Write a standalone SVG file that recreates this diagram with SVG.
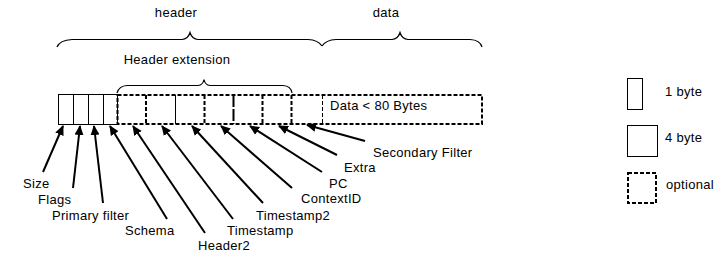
<svg xmlns="http://www.w3.org/2000/svg" width="719" height="267" viewBox="0 0 719 267">
  <style>
    text { font-family: "Liberation Sans", Arial, sans-serif; font-size: 13px; letter-spacing: 0.3px; fill: #000; }
    .solid { fill: none; stroke: #000; stroke-width: 1; }
    .dash { fill: none; stroke: #000; stroke-width: 2; stroke-dasharray: 4 2; }
    .thin-dash { fill: none; stroke: #000; stroke-width: 1; stroke-dasharray: 4 2; }
    .brace { fill: none; stroke: #000; stroke-width: 1.2; }
    .arrow { stroke: #000; stroke-width: 2; fill: none; marker-end: url(#head); }
  </style>
  <defs>
    <marker id="head" markerUnits="userSpaceOnUse" markerWidth="10" markerHeight="10" viewBox="0 0 10 10" refX="9" refY="5" orient="auto">
      <path d="M0,0.5 L10,5 L0,9.5 Z" fill="#000"/>
    </marker>
  </defs>

  <!-- section labels and braces -->
  <g id="header-brace">
    <text x="176" y="17" text-anchor="middle">header</text>
    <path class="brace" d="M57,47 Q60,40 72,39.5 L182,39.5 Q188,39 190,32.5 Q192,39 198,39.5 L308,39.5 Q318,40 322,46"/>
  </g>
  <g id="data-brace">
    <text x="386" y="17" text-anchor="middle">data</text>
    <path class="brace" d="M322,46 Q326,40 336,39.5 L392,39.5 Q398,39 400,32.5 Q402,39 408,39.5 L470,39.5 Q480,40 482,47"/>
  </g>
  <g id="header-extension">
    <text x="177" y="64" text-anchor="middle">Header extension</text>
    <path class="brace" d="M117,93 Q119,86 127,85.5 L198,85.5 Q203,85 204,79.5 Q205,85 210,85.5 L283,85.5 Q291,86 292,93"/>
  </g>

  <!-- fixed 1-byte fields -->
  <g id="fixed-fields">
    <rect class="solid" x="58.5" y="94.5" width="59" height="30"/>
    <line class="solid" x1="73.5" y1="94.5" x2="73.5" y2="124.5"/>
    <line class="solid" x1="88.5" y1="94.5" x2="88.5" y2="124.5"/>
    <line class="solid" x1="103.5" y1="94.5" x2="103.5" y2="124.5"/>
  </g>

  <!-- optional 4-byte fields and data -->
  <g id="optional-fields">
    <rect class="dash" x="117.5" y="95" width="364.5" height="29"/>
    <line class="dash" x1="146" y1="95" x2="146" y2="124"/>
    <line class="solid" x1="175.5" y1="95" x2="175.5" y2="124"/>
    <line class="dash" x1="204.5" y1="95" x2="204.5" y2="124"/>
    <line stroke="#000" stroke-width="2" stroke-dasharray="12 2" x1="233.5" y1="95" x2="233.5" y2="124"/>
    <line class="dash" x1="262.5" y1="95" x2="262.5" y2="124"/>
    <line class="dash" x1="291.5" y1="95" x2="291.5" y2="124"/>
    <line class="thin-dash" x1="322.5" y1="95" x2="322.5" y2="124"/>
    <text x="330" y="110">Data &lt; 80 Bytes</text>
  </g>

  <!-- field labels -->
  <g id="label-size"><text x="23" y="188">Size</text></g>
  <g id="label-flags"><text x="38" y="204">Flags</text></g>
  <g id="label-primary"><text x="52" y="220">Primary filter</text></g>
  <g id="label-schema"><text x="125" y="235">Schema</text></g>
  <g id="label-header2"><text x="198" y="250">Header2</text></g>
  <g id="label-timestamp"><text x="227" y="235">Timestamp</text></g>
  <g id="label-timestamp2"><text x="256" y="220">Timestamp2</text></g>
  <g id="label-contextid"><text x="301" y="203">ContextID</text></g>
  <g id="label-pc"><text x="329" y="188">PC</text></g>
  <g id="label-extra"><text x="344" y="172">Extra</text></g>
  <g id="label-secondary"><text x="373" y="157">Secondary Filter</text></g>

  <!-- pointers from labels to fields -->
  <g id="connectors">
    <line class="arrow" x1="43" y1="172" x2="63" y2="126"/>
    <line class="arrow" x1="73" y1="188" x2="80" y2="126"/>
    <line class="arrow" x1="103" y1="203" x2="94" y2="126"/>
    <line class="arrow" x1="167" y1="219" x2="110" y2="126"/>
    <line class="arrow" x1="205" y1="233" x2="133" y2="126"/>
    <line class="arrow" x1="233" y1="219" x2="162" y2="126"/>
    <line class="arrow" x1="263" y1="203" x2="192" y2="126"/>
    <line class="arrow" x1="292" y1="188" x2="221" y2="126"/>
    <line class="arrow" x1="322" y1="172" x2="250" y2="126"/>
    <line class="arrow" x1="337" y1="155" x2="279" y2="126"/>
    <line class="arrow" x1="365" y1="141" x2="307" y2="125"/>
  </g>

  <!-- legend -->
  <g id="legend-1byte">
    <rect class="solid" x="627.5" y="78.5" width="15" height="31"/>
    <text x="665" y="96">1 byte</text>
  </g>
  <g id="legend-4byte">
    <rect class="solid" x="627.5" y="125.5" width="30" height="31"/>
    <text x="665" y="142">4 byte</text>
  </g>
  <g id="legend-optional">
    <rect class="dash" x="628" y="173" width="28" height="30"/>
    <text x="666" y="189">optional</text>
  </g>
</svg>
